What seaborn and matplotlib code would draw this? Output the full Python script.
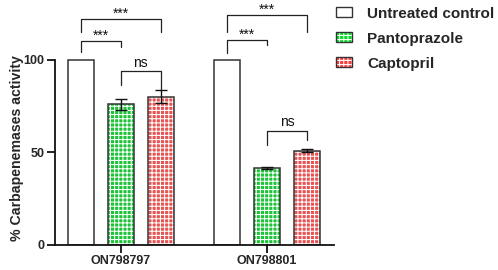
import matplotlib
matplotlib.use("Agg")
import matplotlib.pyplot as plt
import seaborn as sns
import pandas as pd
import numpy as np
from matplotlib.patches import Patch

# ---- data ----
groups = ["ON798797", "ON798801"]
treatments = ["Untreated control", "Pantoprazole", "Captopril"]
untreated = [100, 100]
pantoprazole = [76, 41.5]
captopril = [80, 51]
untreated_sd = [0, 0]
pantoprazole_sd = [3.0, 0.4]
captopril_sd = [3.5, 0.7]
yticks = [0, 50, 100]
# significance brackets: (group, i, j, line level, left leg end, right leg end, label)
brackets = [
    (0, 0, 2, 122.0, 115.0, 115.0, "***"),
    (0, 0, 1, 110.0, 104.5, 107.0, "***"),
    (0, 1, 2, 93.8, 86.5, 83.8, "ns"),
    (1, 0, 2, 124.3, 115.3, 115.3, "***"),
    (1, 0, 1, 110.8, 103.6, 108.0, "***"),
    (1, 1, 2, 61.6, 54.0, 56.8, "ns"),
]

sns.set_style("ticks")
plt.rcParams["font.family"] = ["Liberation Sans", "DejaVu Sans"]
plt.rcParams["hatch.linewidth"] = 0.75

means = [untreated, pantoprazole, captopril]
sds = [untreated_sd, pantoprazole_sd, captopril_sd]
df = pd.DataFrame({
    "group": [g for t in treatments for g in groups],
    "treatment": [t for t in treatments for g in groups],
    "value": [v for m in means for v in m],
    "sd": [s for sd in sds for s in sd],
})

face = {"Untreated control": "#ffffff", "Pantoprazole": "#00e024", "Captopril": "#ff3c3c"}
hatches = {"Untreated control": "", "Pantoprazole": "++++", "Captopril": "++++"}
edge = "#333333"

fig = plt.figure(figsize=(4.98, 2.70), dpi=100)
ax = fig.add_axes([0.110, 0.0926, 0.561, 0.9074])

sns.barplot(data=df, x="group", y="value", hue="treatment", order=groups,
            hue_order=treatments, palette=face, width=0.82, gap=0.35,
            errorbar=None, ax=ax, legend=False, linewidth=0, edgecolor="white")
n_filled = len(ax.patches)
for k, p in enumerate(list(ax.patches)):
    t = treatments[k // len(groups)]
    if hatches[t]:
        p.set_hatch(hatches[t])
        p.set_edgecolor("white")
        p.set_linewidth(0)
sns.barplot(data=df, x="group", y="value", hue="treatment", order=groups,
            hue_order=treatments, fill=False, width=0.82, gap=0.35,
            errorbar=None, ax=ax, legend=False, linewidth=1.1,
            palette={t: edge for t in treatments})
for p in ax.patches[n_filled:]:
    p.set_edgecolor(edge)

# centers from library layout
centers = {}
for k, p in enumerate(ax.patches[:n_filled]):
    ti = k // len(groups)
    gi = k % len(groups)
    centers[(gi, ti)] = p.get_x() + p.get_width() / 2

for ti, t in enumerate(treatments):
    for gi in range(len(groups)):
        if sds[ti][gi] > 0:
            ax.errorbar(centers[(gi, ti)], means[ti][gi], yerr=sds[ti][gi],
                        fmt="none", ecolor="#111111", elinewidth=1.0,
                        capsize=4.5, capthick=1.0, zorder=5)

for gi, i, j, lvl, l1, l2, lab in brackets:
    x1, x2 = centers[(gi, i)], centers[(gi, j)]
    ax.plot([x1, x1, x2, x2], [l1, lvl, lvl, l2], color="#222222", lw=0.9,
            clip_on=False)
    off = 0.8 if lab == "***" else 2.5
    ax.text((x1 + x2) / 2, lvl + off, lab, ha="center", va="baseline",
            fontsize=10, color="#111111")

ax.set_ylim(0, 132.4)
ax.set_xlim(-0.452, 1.459)
ax.set_yticks(yticks)
ax.spines["left"].set_bounds(0, 100)
sns.despine(ax=ax)
for s in ("left", "bottom"):
    ax.spines[s].set_linewidth(1.3)
    ax.spines[s].set_color("#111111")
ax.tick_params(axis="both", length=6, width=1.3, color="#111111", pad=1.5,
               labelsize=9)
for lab in ax.get_xticklabels() + ax.get_yticklabels():
    lab.set_fontweight("bold")
ax.set_xlabel("")
ax.set_ylabel("% Carbapenemases activity", fontsize=10.2, fontweight="bold")
ax.yaxis.set_label_coords(-0.11, 0.396)

handles = []
for t in treatments:
    h1 = Patch(facecolor=face[t], hatch=hatches[t], edgecolor="white", linewidth=0)
    h2 = Patch(facecolor="none", edgecolor=edge, linewidth=1.0)
    handles.append((h1, h2))
fig.legend(handles, treatments, loc="upper left", bbox_to_anchor=(0.675, 0.975),
           frameon=False, prop={"weight": "bold", "size": 11},
           handlelength=1.05, handleheight=0.65, handletextpad=1.0,
           labelspacing=0.72, borderpad=0, borderaxespad=0)

fig.savefig("out.png", dpi=100)
